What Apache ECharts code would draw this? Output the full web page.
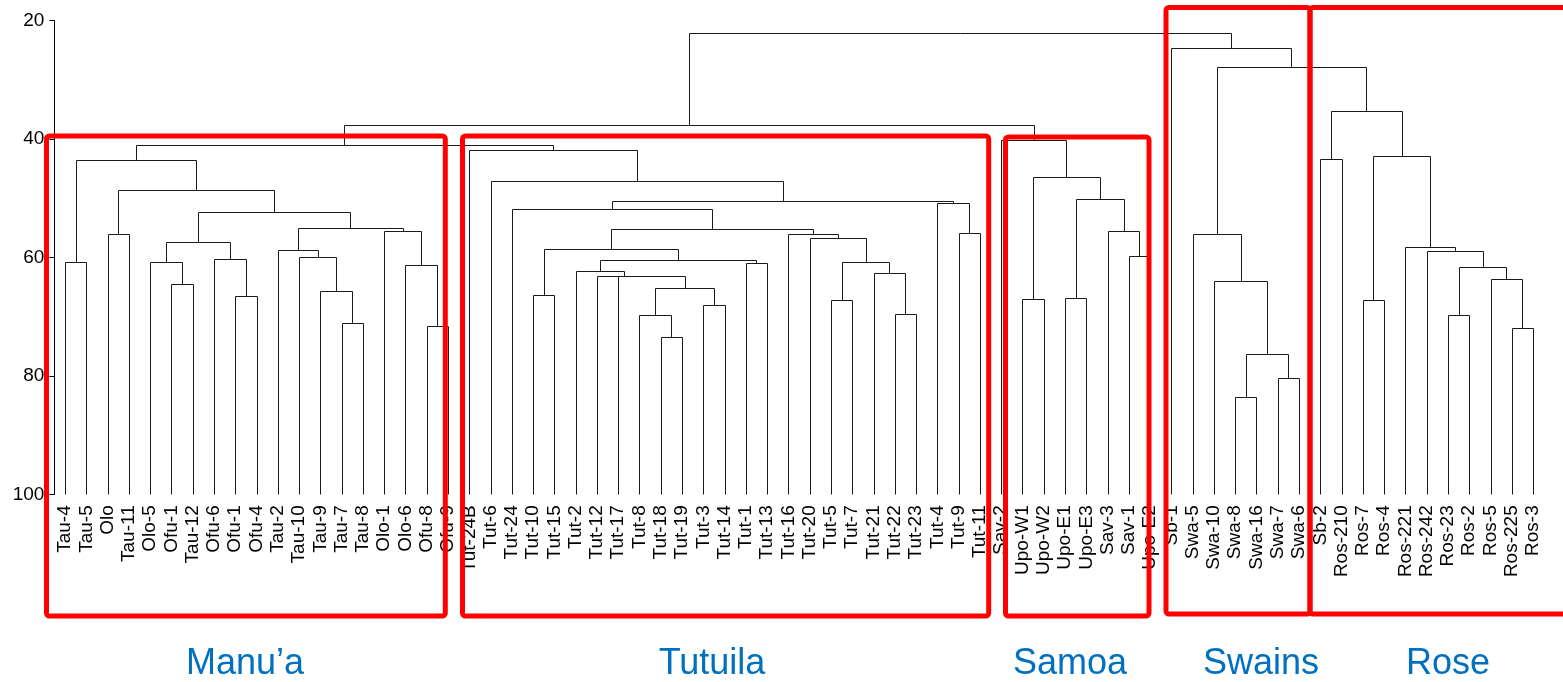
<!DOCTYPE html>
<html><head><meta charset="utf-8">
<script src="https://cdn.jsdelivr.net/npm/echarts@6/dist/echarts.min.js"></script>
<style>html,body{margin:0;padding:0;background:#fff}#c{width:1563px;height:682px}</style>
</head><body><div id="c"></div>
<script>
// Leaf labels, left to right
const leaves = [
  'Tau-4','Tau-5','Olo','Tau-11','Olo-5','Ofu-1','Tau-12','Ofu-6','Ofu-1','Ofu-4',
  'Tau-2','Tau-10','Tau-9','Tau-7','Tau-8','Olo-1','Olo-6','Ofu-8','Ofu-9',
  'Tut-24B','Tut-6','Tut-24','Tut-10','Tut-15','Tut-2','Tut-12','Tut-17','Tut-8','Tut-18',
  'Tut-19','Tut-3','Tut-14','Tut-1','Tut-13','Tut-16','Tut-20','Tut-5','Tut-7','Tut-21',
  'Tut-22','Tut-23','Tut-4','Tut-9','Tut-11',
  'Sav-2','Upo-W1','Upo-W2','Upo-E1','Upo-E3','Sav-3','Sav-1','Upo-E2',
  'Sb-1','Swa-5','Swa-10','Swa-8','Swa-16','Swa-7','Swa-6',
  'Sb-2','Ros-210','Ros-7','Ros-4','Ros-221','Ros-242','Ros-23','Ros-2','Ros-5','Ros-225','Ros-3'
];
// hclust-style merges: negative = leaf (1-based), positive = earlier merge (1-based)
const mergePairs = [
  [-1,-2],[-3,-4],[-6,-7],[-5,3],[-9,-10],[-8,5],[4,6],[-14,-15],[-13,8],[-12,9],
  [-11,10],[-18,-19],[-17,12],[-16,13],[11,14],[7,15],[2,16],[1,17],
  [-29,-30],[-28,19],[-31,-32],[20,21],[-27,22],[-26,23],[-25,24],[-33,-34],[25,26],[-23,-24],
  [28,27],[-40,-41],[-39,30],[-37,-38],[32,31],[-36,33],[-35,34],[29,35],[-22,36],[-43,-44],
  [-42,38],[37,39],[-21,40],[-20,41],
  [18,42],
  [-51,-52],[-50,44],[-48,-49],[46,45],[-46,-47],[48,47],[-45,49],
  [43,50],
  [-56,-57],[-58,-59],[52,53],[-55,54],[-54,55],
  [-60,-61],[-62,-63],[-69,-70],[-68,59],[-66,-67],[61,60],[-65,62],[-64,63],[58,64],[57,65],
  [56,66],[-53,67],[51,68]
];
const mergeHeights = [
  60.8,56.1,64.5,60.8,66.5,60.2,57.4,71.1,65.6,59.9,
  58.7,71.5,61.2,55.6,55.0,52.4,48.7,43.6,
  73.4,69.8,68.0,65.1,63.2,63.1,62.3,61.0,60.4,66.3,
  58.6,69.5,62.6,67.2,60.8,56.8,56.1,55.2,51.8,55.9,
  50.8,50.5,47.1,41.8,
  41.0,
  59.8,55.6,66.8,50.2,67.0,46.5,40.2,
  37.6,
  83.6,80.3,76.3,64.0,56.0,
  43.4,67.2,72.0,63.6,69.8,61.7,58.9,58.2,42.9,35.2,
  27.8,24.6,22.1
];
const leafHeight = 100;
const yMin = 20, yMax = 100, yStep = 20;
const regionNames = ['Manu\u2019a','Tutuila','Samoa','Swains','Rose'];

// Build dendrogram segments (node x = midpoint of children)
const nodeX = [], nodeH = [];
function refPos(r){ return r < 0 ? [-r - 1, leafHeight] : [nodeX[r - 1], nodeH[r - 1]]; }
const segData = mergePairs.map(function(p, k){
  const a = refPos(p[0]), b = refPos(p[1]), h = mergeHeights[k];
  nodeX[k] = (a[0] + b[0]) / 2; nodeH[k] = h;
  return [a[0], a[1], b[0], b[1], h];
});

const chart = echarts.init(document.getElementById('c'), null, {renderer:'canvas'});
const FONT = 'Liberation Sans, Arial, sans-serif';
const red = '#FF0000';
function box(x1,y1,x2,y2){
  return {type:'rect', z:100, silent:true, shape:{x:x1,y:y1,width:x2-x1,height:y2-y1,r:3},
    style:{fill:'none', stroke:red, lineWidth:5}};
}
function lab(t,x){
  return {type:'text', z:100, x:x, y:664, silent:true,
    style:{text:t, fill:'#0070C0', font:'36px ' + FONT, align:'center', verticalAlign:'middle'}};
}
chart.setOption({
  animation:false,
  backgroundColor:'#ffffff',
  grid:{left:54.4, right:19.3, top:20.5, bottom:187.7, containLabel:false},
  xAxis:[
    {type:'category', data:leaves, boundaryGap:true, position:'bottom',
     axisLine:{show:false}, axisTick:{show:false}, splitLine:{show:false},
     axisLabel:{interval:0, rotate:90, margin:11, fontSize:19, color:'#000', fontFamily:FONT}},
    {type:'value', min:-0.5, max:leaves.length - 0.5, show:false, splitLine:{show:false},
     axisLine:{onZero:false}}
  ],
  yAxis:{type:'value', inverse:true, min:yMin, max:yMax, interval:yStep, position:'left',
    axisLine:{show:true, onZero:false, lineStyle:{color:'#000', width:1}},
    axisTick:{show:true, length:5, lineStyle:{color:'#000'}},
    splitLine:{show:false},
    axisLabel:{fontSize:19, color:'#000', margin:10, fontFamily:FONT}},
  series:[{
    type:'custom', xAxisIndex:1, yAxisIndex:0, silent:true,
    data:segData,
    encode:{x:[0,2], y:[1,3,4]},
    renderItem:function(params, api){
      const xa=api.value(0), ha=api.value(1), xb=api.value(2), hb=api.value(3), h=api.value(4);
      const r=function(v){return Math.round(v)+0.5;};
      const pts=[api.coord([xa,ha]), api.coord([xa,h]), api.coord([xb,h]), api.coord([xb,hb])]
        .map(function(p){return [r(p[0]), r(p[1])];});
      return {type:'polyline', shape:{points:pts},
        style:{stroke:'#1a1a1a', lineWidth:1, fill:'none'}};
    }
  }],
  graphic:[
    box(46.5,136,445.3,616),
    box(462.5,136,988.7,616),
    box(1005.5,137,1149,616),
    box(1166,7.5,1310,614),
    box(1310,7.5,1580,614),
    lab(regionNames[0],245), lab(regionNames[1],712), lab(regionNames[2],1070),
    lab(regionNames[3],1261), lab(regionNames[4],1448)
  ]
});
</script></body></html>
